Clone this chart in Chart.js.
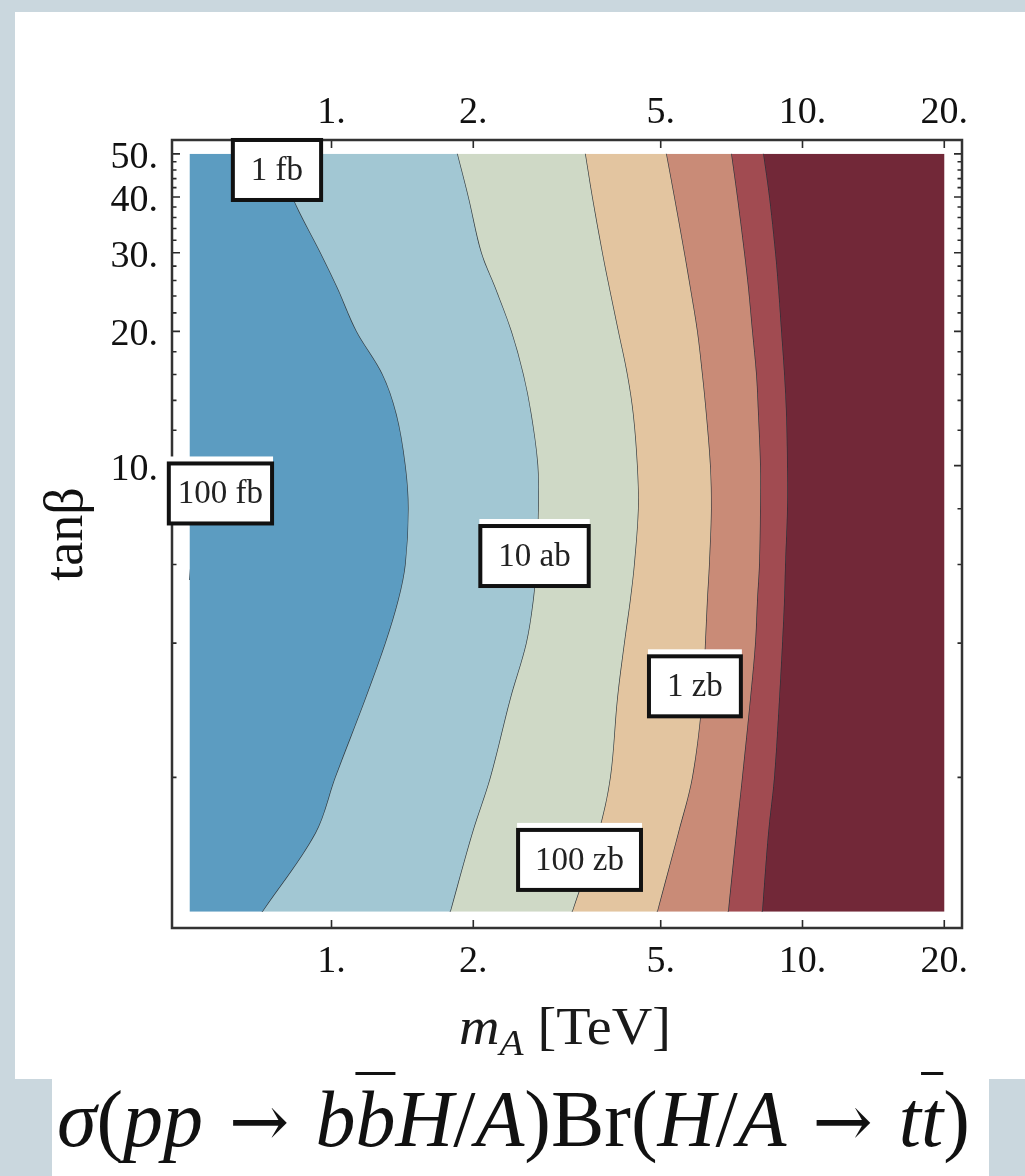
<!DOCTYPE html>
<html>
<head>
<meta charset="utf-8">
<title>σ(pp → bb̄H/A)Br(H/A → tt̄)</title>
<script src="https://cdn.jsdelivr.net/npm/chart.js@4.4.1/dist/chart.umd.min.js"></script>
<style>
  html, body { margin:0; padding:0; }
  body { width:1025px; height:1176px; position:relative; overflow:hidden; background:#cad7de;
         font-family:'Liberation Serif','Times New Roman',serif; color:#111; }
  #panel { position:absolute; left:15px; top:12px; width:1010px; height:1067px; background:#fff; }
  #caption { position:absolute; left:52px; top:1079px; width:937px; height:97px; background:#fff; }
  #chart { position:absolute; left:0; top:0; }
  #xtitle { position:absolute; left:459px; top:1001px; font-size:52px; line-height:52px; white-space:nowrap;
            transform-origin:0 0; transform:scaleX(1.08); color:#1a1a1a; }
  #xtitle sub { font-size:0.7em; vertical-align:-0.3em; line-height:0; }
  #captext { position:absolute; left:5px; top:0px; font-size:80px; line-height:80px; white-space:nowrap; }
  .ar { font-family:'DejaVu Serif',serif; font-size:0.9em; margin:0 6px; }
  .ov { text-decoration: overline; text-decoration-thickness: 3px; }
</style>
</head>
<body>
<div id="panel"></div>
<div id="caption"><div id="captext"><i>σ</i>(<i>pp</i> <span class="ar">→</span> <i>b</i><i class="ov">b</i><i>H</i>/<i>A</i>)Br(<i>H</i>/<i>A</i> <span class="ar">→</span> <i>t</i><i class="ov">t</i>)</div></div>
<canvas id="chart" width="1025" height="1079"></canvas>
<div id="xtitle"><i>m</i><sub><i>A</i></sub> [TeV]</div>
<script>
// ---------- data ----------
const tanBeta = [1, 1.5, 2, 3, 4, 5, 6, 8, 10, 13, 16, 20, 25, 30, 40, 50];
const mADomain = [0.5, 20];                       // TeV, extent of the computed grid
// m_A [TeV] of each contour line at the tanBeta values above
const contour_1fb    = [0.712, 0.923, 1.017, 1.178, 1.299, 1.384, 1.432, 1.453, 1.432, 1.371, 1.280, 1.127, 1.027, 0.945, 0.824, 0.770];
const contour_10ab   = [1.785, 1.988, 2.171, 2.393, 2.588, 2.678, 2.718, 2.745, 2.738, 2.652, 2.551, 2.405, 2.224, 2.077, 1.949, 1.847];
const contour_100zb  = [3.240, 3.680, 3.903, 4.039, 4.179, 4.303, 4.388, 4.474, 4.452, 4.366, 4.240, 4.058, 3.884, 3.753, 3.573, 3.453];
const contour_1zb    = [4.911, 5.441, 5.828, 6.119, 6.209, 6.270, 6.331, 6.393, 6.362, 6.239, 6.119, 5.971, 5.770, 5.603, 5.336, 5.131];
const contour_001zb  = [6.947, 7.225, 7.440, 7.738, 7.930, 8.008, 8.086, 8.126, 8.126, 8.047, 7.969, 7.814, 7.663, 7.514, 7.261, 7.052];
const contour_1e4zb  = [8.204, 8.449, 8.700, 8.916, 9.048, 9.137, 9.181, 9.271, 9.271, 9.226, 9.137, 9.004, 8.872, 8.743, 8.490, 8.245];
// small piece of the 100 fb contour touching the left edge
const contour_100fb_tanBeta = [5.54, 6.31, 6.99, 7.48];
const contour_100fb_mA      = [0.500, 0.505, 0.507, 0.500];

// contour labels
const labelTexts   = ['1 fb', '100 fb', '10 ab', '1 zb', '100 zb'];
const labelMA      = [0.766, 0.581, 2.698, 5.91, 3.362];
const labelTanBeta = [46.0, 8.66, 6.27, 3.20, 1.306];

// axes
const xTickValues = [1, 2, 5, 10, 20];
const xTickLabels = ['1.', '2.', '5.', '10.', '20.'];
const yTickValues = [10, 20, 30, 40, 50];
const yTickLabels = ['10.', '20.', '30.', '40.', '50.'];
const yMinorTicks = [2, 4, 6, 8, 12, 14, 16, 18, 22, 24, 26, 28, 32, 34, 36, 38, 42, 44, 46, 48];

// ---------- styles ----------
const regionColors = ['#5c9cc1', '#a2c7d3', '#cfd9c6', '#e3c5a0', '#c98b77', '#a14b51', '#722838'];
const lineColor = 'rgba(38,48,54,0.9)';
const labelPad = [18, 9, 18, 18, 17];
const serif = "'Liberation Serif','Times New Roman',serif";

// ---------- build datasets ----------
const boundaryNames = ['m_A = 0.5 TeV edge', '1 fb', '10 ab', '100 zb', '1 zb', '0.01 zb', '10^-4 zb', 'm_A = 20 TeV edge'];
const boundarySeries = [
  tanBeta.map(() => mADomain[0]),
  contour_1fb, contour_10ab, contour_100zb, contour_1zb, contour_001zb, contour_1e4zb,
  tanBeta.map(() => mADomain[1])
];
const last = boundarySeries.length - 1;
const datasets = boundarySeries.map((xs, i) => {
  const edge = (i === 0 || i === last);
  return {
    label: boundaryNames[i],
    data: tanBeta.map((t, j) => ({x: xs[j], y: t})),
    borderColor: edge ? 'rgba(0,0,0,0)' : lineColor,
    borderWidth: edge ? 0 : 1.4,
    backgroundColor: i < last ? regionColors[i] : 'rgba(0,0,0,0)',
    fill: i < last ? '+1' : false,
    pointRadius: 0,
    tension: edge ? 0 : 0.35
  };
});
datasets.push({
  label: '100 fb',
  data: contour_100fb_tanBeta.map((t, j) => ({x: contour_100fb_mA[j], y: t})),
  borderColor: lineColor, borderWidth: 1.4, fill: false, pointRadius: 0, tension: 0.35
});

const xMin = 0.4585, xMax = 21.81, yMin = 0.919, yMax = 53.7;
const tickFont = {family: serif, size: 38};

const frameTicks = {
  id: 'frameTicks',
  afterDatasetsDraw(chart) {
    const {ctx, chartArea: a} = chart;
    const xs = chart.scales.x, ys = chart.scales.y;
    ctx.save();
    ctx.strokeStyle = '#2a2a2a';
    ctx.lineWidth = 1.6;
    ctx.beginPath();
    xTickValues.forEach(v => {
      const p = xs.getPixelForValue(v);
      ctx.moveTo(p, a.bottom); ctx.lineTo(p, a.bottom - 8);
      ctx.moveTo(p, a.top); ctx.lineTo(p, a.top + 8);
    });
    yTickValues.forEach(v => {
      const p = ys.getPixelForValue(v);
      ctx.moveTo(a.left, p); ctx.lineTo(a.left + 8, p);
      ctx.moveTo(a.right, p); ctx.lineTo(a.right - 8, p);
    });
    yMinorTicks.forEach(v => {
      const p = ys.getPixelForValue(v);
      ctx.moveTo(a.left, p); ctx.lineTo(a.left + 4.5, p);
      ctx.moveTo(a.right, p); ctx.lineTo(a.right - 4.5, p);
    });
    ctx.stroke();
    ctx.lineWidth = 2.5;
    ctx.strokeStyle = '#333';
    ctx.strokeRect(a.left, a.top, a.right - a.left, a.bottom - a.top);

    ctx.font = "33px " + serif;
    ctx.textAlign = 'center';
    ctx.textBaseline = 'middle';
    labelTexts.forEach((txt, i) => {
      const cx = xs.getPixelForValue(labelMA[i]);
      const cy = ys.getPixelForValue(labelTanBeta[i]);
      const w = ctx.measureText(txt).width + 2 * labelPad[i];
      const h = 60;
      const x0 = cx - w / 2, y0 = cy - h / 2;
      ctx.fillStyle = '#fff';
      ctx.fillRect(x0 - 1, y0 - 7, w + 2, h + 8);
      ctx.lineWidth = 4;
      ctx.strokeStyle = '#111';
      ctx.strokeRect(x0, y0, w, h);
      ctx.fillStyle = '#222';
      ctx.fillText(txt, cx, cy + 1);
    });
    ctx.restore();
  }
};

function xAxis(position, pad, height) {
  return {
    type: 'logarithmic', position, min: xMin, max: xMax,
    grid: {display: false, drawTicks: false}, border: {display: false},
    ticks: {font: tickFont, color: '#111', padding: pad, autoSkip: false, maxRotation: 0, minRotation: 0,
            callback: (v, i) => xTickLabels[i]},
    afterBuildTicks: s => { s.ticks = xTickValues.map(v => ({value: v})); },
    afterFit: s => { s.height = height; }
  };
}

new Chart(document.getElementById('chart'), {
  type: 'line',
  data: {datasets},
  options: {
    indexAxis: 'y',
    responsive: false,
    devicePixelRatio: 1,
    animation: false,
    layout: {padding: {left: 0, right: 63, top: 0, bottom: 0}},
    plugins: {legend: {display: false}, tooltip: {enabled: false}, title: {display: false}},
    scales: {
      x: xAxis('bottom', 11, 151),
      x2: xAxis('top', 4, 140),
      y: {
        type: 'logarithmic', position: 'left', min: yMin, max: yMax,
        grid: {display: false, drawTicks: false}, border: {display: false},
        ticks: {font: tickFont, color: '#111', padding: 14, labelOffset: 4, autoSkip: false,
                callback: (v, i) => yTickLabels[i]},
        afterBuildTicks: s => { s.ticks = yTickValues.map(v => ({value: v})); },
        afterFit: s => { s.width = 172; },
        title: {display: true, text: 'tanβ', color: '#111', font: {family: serif, size: 54}, padding: {top: 35, bottom: 0}}
      }
    }
  },
  plugins: [frameTicks]
});
</script>
</body>
</html>
